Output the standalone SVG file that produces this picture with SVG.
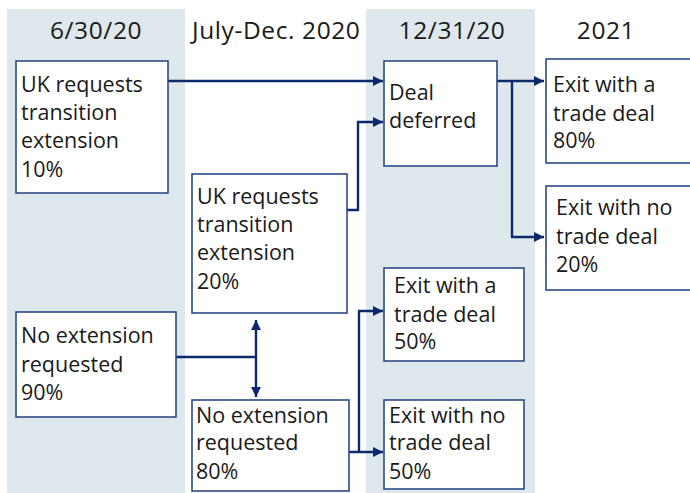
<svg xmlns="http://www.w3.org/2000/svg" width="690" height="493" viewBox="0 0 690 493">
<defs>
<style>
.bg{fill:#dfe8ec}
.box{fill:#fff;stroke:#2c4a85;stroke-width:1.6}
.t{font-family:"Open Sans","Noto Sans",sans-serif;font-size:21.5px;fill:#1a1a1a}
.h{font-family:"Open Sans","Noto Sans",sans-serif;font-size:24.5px;letter-spacing:0.6px;fill:#1a1a1a}
.c{fill:none;stroke:#0b2a6b;stroke-width:2.4}
</style>
<marker id="ah" viewBox="0 0 10 10" refX="10" refY="5" markerWidth="10" markerHeight="10" markerUnits="userSpaceOnUse" orient="auto-start-reverse">
<path d="M0,0 L10,5 L0,10 z" fill="#0b2a6b"/>
</marker>
</defs>
<rect width="690" height="493" fill="#fff"/>
<rect class="bg" x="7" y="9" width="178" height="484"/>
<rect class="bg" x="366" y="9" width="169" height="484"/>
<g id="headers">
<text class="h" x="96" y="39" text-anchor="middle">6/30/20</text>
<text class="h" x="192" y="39">July-Dec. 2020</text>
<text class="h" x="452" y="39" text-anchor="middle">12/31/20</text>
<text class="h" x="606" y="39" text-anchor="middle">2021</text>
</g>
<g id="connectors">
<path class="c" d="M168,81 H383" marker-end="url(#ah)"/>
<path class="c" d="M347,210 H358 V122 H383" marker-end="url(#ah)"/>
<path class="c" d="M497,81 H544" marker-end="url(#ah)"/>
<path class="c" d="M512,81 V237 H544" marker-end="url(#ah)"/>
<path class="c" d="M176,357 H256"/>
<path class="c" d="M256,320 V397" marker-start="url(#ah)" marker-end="url(#ah)"/>
<path class="c" d="M349,452 H383" marker-end="url(#ah)"/>
<path class="c" d="M359,452 V311 H383" marker-end="url(#ah)"/>
</g>
<g id="n1">
<rect class="box" x="16" y="61" width="152" height="132"/>
<text class="t" x="21" y="92">UK requests</text>
<text class="t" x="21" y="120">transition</text>
<text class="t" x="21" y="148">extension</text>
<text class="t" x="21" y="177">10%</text>
</g>
<g id="n2">
<rect class="box" x="192" y="174" width="155" height="139"/>
<text class="t" x="197" y="204">UK requests</text>
<text class="t" x="197" y="232">transition</text>
<text class="t" x="197" y="260">extension</text>
<text class="t" x="197" y="289">20%</text>
</g>
<g id="n3">
<rect class="box" x="16" y="312" width="160" height="105"/>
<text class="t" x="21" y="343">No extension</text>
<text class="t" x="21" y="372">requested</text>
<text class="t" x="21" y="400">90%</text>
</g>
<g id="n4">
<rect class="box" x="192" y="400" width="157" height="91"/>
<text class="t" x="196" y="423">No extension</text>
<text class="t" x="196" y="450">requested</text>
<text class="t" x="196" y="479">80%</text>
</g>
<g id="n5">
<rect class="box" x="384" y="61" width="113" height="105"/>
<text class="t" x="389" y="100">Deal</text>
<text class="t" x="389" y="128">deferred</text>
</g>
<g id="n6">
<rect class="box" x="546" y="59" width="150" height="104"/>
<text class="t" x="553" y="92">Exit with a</text>
<text class="t" x="553" y="121">trade deal</text>
<text class="t" x="553" y="148">80%</text>
</g>
<g id="n7">
<rect class="box" x="546" y="186" width="150" height="104"/>
<text class="t" x="556" y="215">Exit with no</text>
<text class="t" x="556" y="244">trade deal</text>
<text class="t" x="556" y="272">20%</text>
</g>
<g id="n8">
<rect class="box" x="384" y="268" width="140" height="93"/>
<text class="t" x="394" y="293">Exit with a</text>
<text class="t" x="394" y="322">trade deal</text>
<text class="t" x="394" y="349">50%</text>
</g>
<g id="n9">
<rect class="box" x="384" y="400" width="140" height="89"/>
<text class="t" x="389" y="423">Exit with no</text>
<text class="t" x="389" y="450">trade deal</text>
<text class="t" x="389" y="479">50%</text>
</g>
</svg>
